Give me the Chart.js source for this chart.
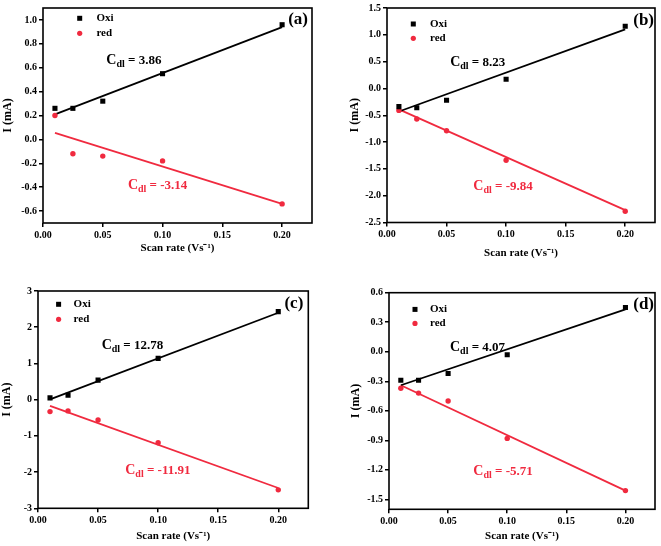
<!DOCTYPE html>
<html>
<head>
<meta charset="utf-8">
<script src="https://cdn.jsdelivr.net/npm/chart.js@4.4.1/dist/chart.umd.min.js"></script>
<style>
body { margin: 0; background: #fff; }
.panel { position: absolute; }
</style>
</head>
<body>
<div class="panel" style="left:0;top:0"><canvas id="chartA" width="330" height="270"></canvas></div>
<div class="panel" style="left:330px;top:0"><canvas id="chartB" width="331" height="270"></canvas></div>
<div class="panel" style="left:0;top:270px"><canvas id="chartC" width="330" height="276"></canvas></div>
<div class="panel" style="left:330px;top:270px"><canvas id="chartD" width="331" height="276"></canvas></div>
<script>
// scan rates (V/s) shared by all panels
var scanRate = [0.01, 0.025, 0.05, 0.1, 0.2];
var xTicks = [0, 0.05, 0.10, 0.15, 0.20];
var xLabels = ['0.00', '0.05', '0.10', '0.15', '0.20'];
var fitX = [0.01, 0.2];

// (a)
var oxiA = [0.26, 0.26, 0.32, 0.55, 0.96];
var redA = [0.20, -0.12, -0.14, -0.18, -0.54];
var oxiFitA = [0.21, 0.94];
var redFitA = [0.055, -0.54];
var yTicksA = [-0.6, -0.4, -0.2, 0, 0.2, 0.4, 0.6, 0.8, 1.0];
var yLabelsA = ['-0.6', '-0.4', '-0.2', '0.0', '0.2', '0.4', '0.6', '0.8', '1.0'];
var cdlA = ['3.86', '-3.14'];

// (b)
var oxiB = [-0.34, -0.36, -0.22, 0.17, 1.16];
var redB = [-0.41, -0.57, -0.79, -1.34, -2.29];
var oxiFitB = [-0.43, 1.10];
var redFitB = [-0.39, -2.27];
var yTicksB = [-2.5, -2.0, -1.5, -1.0, -0.5, 0, 0.5, 1.0, 1.5];
var yLabelsB = ['-2.5', '-2.0', '-1.5', '-1.0', '-0.5', '0.0', '0.5', '1.0', '1.5'];
var cdlB = ['8.23', '-9.84'];

// (c)
var oxiC = [0.05, 0.12, 0.54, 1.14, 2.43];
var redC = [-0.33, -0.31, -0.56, -1.19, -2.49];
var oxiFitC = [0.01, 2.40];
var redFitC = [-0.17, -2.44];
var yTicksC = [-3, -2, -1, 0, 1, 2, 3];
var yLabelsC = ['-3', '-2', '-1', '0', '1', '2', '3'];
var cdlC = ['12.78', '-11.91'];

// (d)
var oxiD = [-0.29, -0.29, -0.22, -0.03, 0.45];
var redD = [-0.37, -0.42, -0.50, -0.88, -1.41];
var oxiFitD = [-0.34, 0.43];
var redFitD = [-0.34, -1.41];
var yTicksD = [-1.5, -1.2, -0.9, -0.6, -0.3, 0, 0.3, 0.6];
var yLabelsD = ['-1.5', '-1.2', '-0.9', '-0.6', '-0.3', '0.0', '0.3', '0.6'];
var cdlD = ['4.07', '-5.71'];

var BLACK = '#000000';
var RED = '#f02a3f';
var SERIF = '"Liberation Serif", "Times New Roman", serif';

function pts(xs, ys) {
    return xs.map(function (x, i) { return {x: x, y: ys[i]}; });
}

// frame, legend, panel letter and Cdl labels
var panelDeco = {
    id: 'panelDeco',
    afterDatasetsDraw: function (chart, args, o) {
        var ctx = chart.ctx, a = chart.chartArea;
        var xs = chart.scales.x, ys = chart.scales.y;
        ctx.save();
        ctx.strokeStyle = BLACK;
        ctx.lineWidth = 1.6;
        ctx.strokeRect(a.left, a.top, a.right - a.left, a.bottom - a.top);

        // legend
        var lx = a.left + o.leg[0], ly = a.top + o.leg[1];
        ctx.fillStyle = BLACK;
        ctx.fillRect(lx - 2.5, ly - 2.5, 5, 5);
        ctx.fillStyle = RED;
        ctx.beginPath();
        ctx.arc(lx, ly + o.leg[3], 2.6, 0, Math.PI * 2);
        ctx.fill();
        ctx.font = 'bold 11px ' + SERIF;
        ctx.textBaseline = 'middle';
        ctx.textAlign = 'left';
        ctx.fillStyle = BLACK;
        ctx.fillText('Oxi', a.left + o.leg[2], ly);
        ctx.fillText('red', a.left + o.leg[2], ly + o.leg[3]);

        // panel letter
        ctx.font = 'bold 17px ' + SERIF;
        ctx.textAlign = 'right';
        ctx.fillText(o.letter, a.right - o.letterPos[0], a.top + o.letterPos[1]);

        // Cdl labels
        drawCdl(ctx, xs.getPixelForValue(o.cdlPos[0][0]), ys.getPixelForValue(o.cdlPos[0][1]) + 5, o.cdl[0], BLACK);
        drawCdl(ctx, xs.getPixelForValue(o.cdlPos[1][0]), ys.getPixelForValue(o.cdlPos[1][1]) + 5, o.cdl[1], RED);
        ctx.restore();
    }
};

function drawCdl(ctx, x, y, val, color) {
    ctx.fillStyle = color;
    ctx.textAlign = 'left';
    ctx.textBaseline = 'alphabetic';
    ctx.font = 'bold 14px ' + SERIF;
    ctx.fillText('C', x, y);
    x += ctx.measureText('C').width;
    ctx.font = 'bold 10px ' + SERIF;
    ctx.fillText('dl', x, y + 3);
    x += ctx.measureText('dl').width;
    ctx.font = 'bold 13px ' + SERIF;
    ctx.fillText(' = ' + val, x, y);
}

function makePanel(p) {
    var tickFont = {family: SERIF, weight: 'bold', size: 10};
    var grid = {drawOnChartArea: false, drawTicks: true, tickLength: 4, color: BLACK, lineWidth: 1.5};
    new Chart(document.getElementById(p.id), {
        type: 'scatter',
        data: {
            datasets: [
                {label: 'Oxi', data: pts(scanRate, p.oxi), pointStyle: 'rect', pointRadius: 3.6,
                    backgroundColor: BLACK, borderColor: BLACK, borderWidth: 0},
                {label: 'red', data: pts(scanRate, p.red), pointStyle: 'circle', pointRadius: 2.7,
                    backgroundColor: RED, borderColor: RED, borderWidth: 0},
                {label: 'Oxi fit', data: pts(fitX, p.oxiFit), showLine: true, pointRadius: 0,
                    borderColor: BLACK, borderWidth: 1.8},
                {label: 'red fit', data: pts(fitX, p.redFit), showLine: true, pointRadius: 0,
                    borderColor: RED, borderWidth: 1.8}
            ]
        },
        options: {
            responsive: false,
            animation: false,
            devicePixelRatio: 1,
            layout: {padding: p.pad},
            scales: {
                x: {
                    type: 'linear', min: 0, max: 0.225,
                    afterBuildTicks: function (s) { s.ticks = xTicks.map(function (v) { return {value: v}; }); },
                    afterFit: function (s) { s.height = p.xHeight; },
                    ticks: {color: BLACK, font: tickFont, padding: 2, maxRotation: 0, autoSkip: false,
                        callback: function (v, i) { return xLabels[i]; }},
                    grid: grid,
                    border: {display: false},
                    title: {display: true, text: 'Scan rate (Vs\u207B\u00B9)', color: BLACK, padding: 0,
                        font: {family: SERIF, weight: 'bold', size: 11}}
                },
                y: {
                    type: 'linear', min: p.yMin, max: p.yMax,
                    afterBuildTicks: function (s) { s.ticks = p.yTicks.map(function (v) { return {value: v}; }); },
                    afterFit: function (s) { s.width = p.yWidth; },
                    ticks: {color: BLACK, font: tickFont, padding: 2, autoSkip: false,
                        callback: function (v, i) { return p.yLabels[i]; }},
                    grid: grid,
                    border: {display: false},
                    title: {display: true, text: 'I (mA)', color: BLACK, padding: 0,
                        font: {family: SERIF, weight: 'bold', size: 12}}
                }
            },
            plugins: {
                legend: {display: false},
                tooltip: {enabled: false},
                panelDeco: {
                    leg: p.leg, letter: p.letter, letterPos: p.letterPos,
                    cdl: p.cdl, cdlPos: p.cdlPos
                }
            }
        },
        plugins: [panelDeco]
    });
}

makePanel({id: 'chartA', oxi: oxiA, red: redA, oxiFit: oxiFitA, redFit: redFitA,
    yMin: -0.7, yMax: 1.1, yTicks: yTicksA, yLabels: yLabelsA, cdl: cdlA,
    pad: {left: 1, top: 6, right: 18, bottom: 15}, yWidth: 42, xHeight: 32,
    leg: [36.7, 10.3, 53.4, 15], letter: '(a)', letterPos: [4, 12],
    cdlPos: [[0.053, 0.67], [0.071, -0.376]]});

makePanel({id: 'chartB', oxi: oxiB, red: redB, oxiFit: oxiFitB, redFit: redFitB,
    yMin: -2.5, yMax: 1.5, yTicks: yTicksB, yLabels: yLabelsB, cdl: cdlB,
    pad: {left: 18, top: 6, right: 6, bottom: 10}, yWidth: 39, xHeight: 37.5,
    leg: [26.3, 16, 43, 14.3], letter: '(b)', letterPos: [1, 12.5],
    cdlPos: [[0.053, 0.51], [0.0725, -1.80]]});

makePanel({id: 'chartC', oxi: oxiC, red: redC, oxiFit: oxiFitC, redFit: redFitC,
    yMin: -3, yMax: 3, yTicks: yTicksC, yLabels: yLabelsC, cdl: cdlC,
    pad: {left: 0, top: 21, right: 21.7, bottom: 3}, yWidth: 38, xHeight: 34.7,
    leg: [20.6, 13.3, 35.6, 15], letter: '(c)', letterPos: [5, 12.5],
    cdlPos: [[0.053, 1.55], [0.0726, -1.925]]});

makePanel({id: 'chartD', oxi: oxiD, red: redD, oxiFit: oxiFitD, redFit: redFitD,
    yMin: -1.6, yMax: 0.6, yTicks: yTicksD, yLabels: yLabelsD, cdl: cdlD,
    pad: {left: 19, top: 22.7, right: 6, bottom: 3}, yWidth: 40, xHeight: 33.7,
    leg: [26, 16.7, 41, 14], letter: '(d)', letterPos: [1, 12],
    cdlPos: [[0.0516, 0.06], [0.0713, -1.203]]});
</script>
</body>
</html>
